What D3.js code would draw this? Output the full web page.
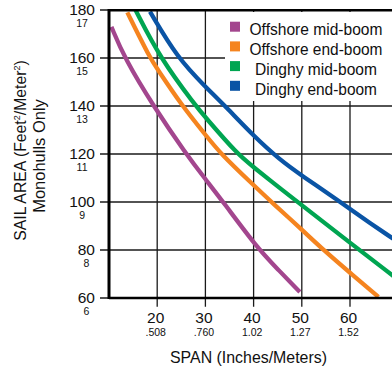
<!DOCTYPE html>
<html>
<head>
<meta charset="utf-8">
<script src="https://cdn.jsdelivr.net/npm/d3@7"></script>
<style>
  body { margin: 0; background: #fff; }
  svg { display: block; font-family: "Liberation Sans", Arial, Helvetica, sans-serif; }
</style>
</head>
<body>
<script>
//DATA
const spanTicks = [20, 30, 40, 50, 60];
const spanMeters = [".508", ".760", "1.02", "1.27", "1.52"];
const areaTicks = [180, 160, 140, 120, 100, 80, 60];
const areaMeters = ["17", "15", "13", "11", "9", "8", "6"];
const seriesNames = ["Offshore mid-boom", "Offshore end-boom", "Dinghy mid-boom", "Dinghy end-boom"];
const seriesColors = ["#a3468e", "#f5841f", "#00a551", "#0a54a5"];

// [span inches, sail area ft2]
const offshoreMid = [[10.5,173],[13.2,160],[19.2,140],[26,120],[30,109.5],[33.7,100],[40.7,81],[45,72],[49.6,62.5]];
const offshoreEnd = [[13.8,179],[18.5,160],[20,155.5],[25,140.5],[30,128],[33.2,120],[40,107],[43.7,100],[50,88.5],[54.5,80],[60,70.5],[65.9,60.5]];
const dinghyMid = [[15.5,180],[20.6,160],[28,140],[30,135.3],[36.6,120],[40,114.5],[45.5,105.7],[50,98.7],[60,83],[68.7,69.6],[70,67.6]];
const dinghyEnd = [[18.5,179.3],[24.2,160],[30,148],[34.1,140],[40,127.5],[45.5,117.5],[50,111],[58,100],[60,97],[68.7,85],[70,83.3]];
const allSeries = [offshoreMid, offshoreEnd, dinghyMid, dinghyEnd];

//SIZES
const svgwidth = 392;
const svgheight = 371;

const svg = d3.select("body").append("svg")
    .attr("width", svgwidth)
    .attr("height", svgheight);

//SCALES
const x = d3.scaleLinear().domain([10, 70]).range([109, 398.2]);
const y = d3.scaleLinear().domain([60, 180]).range([298, 10]);

//GRID
const grid = svg.append("g").attr("stroke", "#1a1a1a").attr("stroke-width", 1.3);
grid.selectAll("line.v").data(spanTicks).join("line").classed("v", true)
    .attr("x1", d => x(d)).attr("x2", d => x(d))
    .attr("y1", y(180)).attr("y2", y(60) + 8.7);
grid.selectAll("line.h").data(areaTicks).join("line").classed("h", true)
    .attr("x1", 100).attr("x2", svgwidth)
    .attr("y1", d => y(d)).attr("y2", d => y(d));

//LEGEND BOX (covers grid)
svg.append("rect")
    .attr("x", 225).attr("y", 12)
    .attr("width", 200).attr("height", 89)
    .attr("fill", "#fff");

//CURVES
const line = d3.line()
    .x(d => x(d[0]))
    .y(d => y(d[1]))
    .curve(d3.curveBasis);

svg.append("g").selectAll("path").data(allSeries).join("path")
    .attr("fill", "none")
    .attr("stroke", (d, i) => seriesColors[i])
    .attr("stroke-width", 4.3)
    .attr("d", line);

//FRAME LINES
svg.append("line")
    .attr("x1", x(10)).attr("x2", svgwidth)
    .attr("y1", y(180) + 0.3).attr("y2", y(180) + 0.3)
    .attr("stroke", "#000").attr("stroke-width", 2.5);
svg.append("line")
    .attr("x1", x(10)).attr("x2", svgwidth)
    .attr("y1", y(60)).attr("y2", y(60))
    .attr("stroke", "#000").attr("stroke-width", 2.5);
svg.append("line")
    .attr("x1", x(10)).attr("x2", x(10))
    .attr("y1", y(180) - 1).attr("y2", y(60) + 1)
    .attr("stroke", "#000").attr("stroke-width", 3);

//Y LABELS
const ylab = svg.append("g").attr("fill", "#111");
areaTicks.forEach((v, i) => {
  const big = ylab.append("text")
      .attr("x", 95).attr("y", y(v) + 5.3)
      .attr("text-anchor", "end")
      .attr("font-size", 15.5)
      .text(v);
  const w = big.node().getComputedTextLength();
  ylab.append("text")
      .attr("x", 95 - w / 2).attr("y", y(v) + 17.2)
      .attr("text-anchor", "middle")
      .attr("font-size", 10.5)
      .text(areaMeters[i]);
});

//X LABELS
const xlab = svg.append("g").attr("fill", "#111").attr("text-anchor", "middle");
spanTicks.forEach((s, i) => {
  xlab.append("text")
      .attr("x", x(s) - 1.5).attr("y", 322.5)
      .attr("font-size", 15.5)
      .text(s);
  xlab.append("text")
      .attr("x", x(s) - 1.5).attr("y", 336)
      .attr("font-size", 10.5)
      .text(spanMeters[i]);
});

//AXIS TITLES
svg.append("text")
    .attr("x", 248.5).attr("y", 363)
    .attr("text-anchor", "middle")
    .attr("font-size", 17)
    .attr("textLength", 157)
    .attr("lengthAdjust", "spacingAndGlyphs")
    .attr("fill", "#111")
    .text("SPAN (Inches/Meters)");

const ytitle = svg.append("text")
    .attr("transform", "translate(26,150.5) rotate(-90)")
    .attr("text-anchor", "middle")
    .attr("font-size", 15.8)
    .attr("fill", "#111");
ytitle.append("tspan").text("SAIL AREA (Feet");
ytitle.append("tspan").attr("font-size", 9).attr("dy", -6).text("2");
ytitle.append("tspan").attr("dy", 6).text("/Meter");
ytitle.append("tspan").attr("font-size", 9).attr("dy", -6).text("2");
ytitle.append("tspan").attr("dy", 6).text(")");

svg.append("text")
    .attr("transform", "translate(45,156) rotate(-90)")
    .attr("text-anchor", "middle")
    .attr("font-size", 16.5)
    .attr("fill", "#111")
    .text("Monohulls Only");

//LEGEND
const legend = svg.append("g");
seriesNames.forEach((n, i) => {
  legend.append("rect")
      .attr("x", 230).attr("y", 21.7 + i * 19.7)
      .attr("width", 10).attr("height", 10)
      .attr("fill", seriesColors[i]);
  legend.append("text")
      .attr("x", 316).attr("y", 35 + i * 20)
      .attr("text-anchor", "middle")
      .attr("font-size", 16.5)
      .attr("textLength", i < 2 ? 133 : 122)
      .attr("lengthAdjust", "spacingAndGlyphs")
      .attr("fill", "#111")
      .text(n);
});
</script>
</body>
</html>
